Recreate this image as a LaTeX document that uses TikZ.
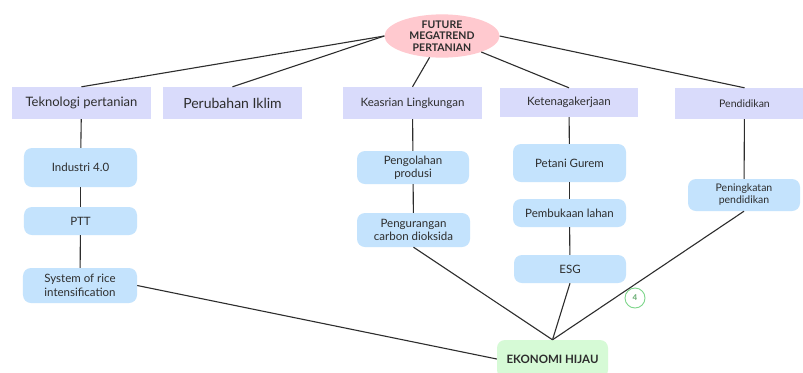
\documentclass[tikz,border=0pt]{standalone}
\usepackage{fontspec}
\setmainfont{Lato}
\usetikzlibrary{shapes.geometric}
\definecolor{lav}{RGB}{217,219,251}
\definecolor{lblue}{RGB}{196,227,253}
\definecolor{lgreen}{RGB}{214,250,214}
\definecolor{lpink}{RGB}{255,201,207}
\definecolor{txt}{RGB}{45,45,45}
\definecolor{ring}{RGB}{125,214,138}
\tikzset{
  cat/.style={fill=lav, draw=none, inner sep=0pt, text=txt, align=center},
  sub/.style={fill=lblue, draw=none, rounded corners=8bp, inner sep=0pt, text=txt, align=center, font=\fontsize{11.5bp}{13.5bp}\selectfont},
  link/.style={draw=txt, line width=1.1bp}
}
\begin{document}
\begin{tikzpicture}[x=1bp,y=-1bp]
\clip (0,0) rectangle (803,372);
\fill[white] (0,0) rectangle (803,372);
% central ellipse
\node[ellipse, fill=lpink, minimum width=115bp, minimum height=38bp, inner sep=0pt, text=txt, align=center,
  font=\bfseries\fontsize{10.5bp}{11.5bp}\selectfont] (fut) at (442,36) {FUTURE\\MEGATREND\\PERTANIAN};
% categories
\node[cat, minimum width=139bp, minimum height=32bp, font=\fontsize{13bp}{15bp}\selectfont] (tek) at (81.5,103) {Teknologi pertanian};
\node[cat, minimum width=139bp, minimum height=32bp, font=\fontsize{14bp}{16bp}\selectfont] (per) at (232.5,103) {Perubahan Iklim};
\node[cat, minimum width=139bp, minimum height=32bp, font=\fontsize{11.5bp}{14bp}\selectfont] (kea) at (412.5,103) {Keasrian Lingkungan};
\node[cat, minimum width=138bp, minimum height=29bp, font=\fontsize{11.5bp}{13bp}\selectfont] (ket) at (569,102.5) {Ketenagakerjaan};
\node[cat, minimum width=139bp, minimum height=31bp, font=\fontsize{10.5bp}{12bp}\selectfont] (pen) at (744.5,103.5) {Pendidikan};
% sub nodes
\node[sub, minimum width=113bp, minimum height=39bp] (ind) at (80.5,167.5) {Industri 4.0};
\node[sub, minimum width=113bp, minimum height=28bp] (ptt) at (80.5,221) {PTT};
\node[sub, minimum width=114bp, minimum height=35bp] (sri) at (80,285.5) {System of rice\\intensification};
\node[sub, minimum width=112bp, minimum height=33bp] (peng) at (413,167.5) {Pengolahan\\produsi};
\node[sub, minimum width=113bp, minimum height=34bp] (pengc) at (413.5,230) {Pengurangan\\carbon dioksida};
\node[sub, minimum width=113bp, minimum height=38bp] (pg) at (569.5,163) {Petani Gurem};
\node[sub, minimum width=113bp, minimum height=28bp] (pl) at (569.5,213) {Pembukaan lahan};
\node[sub, minimum width=112bp, minimum height=28bp] (esg) at (570,269) {ESG};
\node[sub, minimum width=112bp, minimum height=32bp, font=\fontsize{10.5bp}{12bp}\selectfont] (pp) at (744,195) {Peningkatan\\pendidikan};
% green
\node[fill=lgreen, rounded corners=8bp, inner sep=0pt, minimum width=111bp, minimum height=38bp, text=txt,
  font=\bfseries\fontsize{11.5bp}{13bp}\selectfont] (eko) at (552.5,359) {EKONOMI HIJAU};
% badge
\node[circle, draw=ring, line width=0.9bp, minimum size=20bp, inner sep=0pt, text=ring!80!black,
  font=\bfseries\fontsize{8bp}{9bp}\selectfont] (badge) at (635,298) {4};
% links from center
\draw[link] (fut.west) -- (tek.north);
\draw[link] (fut.west) -- (per.north);
\draw[link] (fut) -- (kea.north);
\draw[link] (fut) -- (ket.north);
\draw[link] (fut.east) -- (pen.north);
% chains
\draw[link] (tek) -- (ind);
\draw[link] (ind) -- (ptt);
\draw[link] (ptt) -- (sri);
\draw[link] (kea) -- (peng);
\draw[link] (peng) -- (pengc);
\draw[link] (ket) -- (pg);
\draw[link] (pg) -- (pl);
\draw[link] (pl) -- (esg);
\draw[link] (pen) -- (pp);
% to green
\draw[link] (sri.east) -- (eko.west);
\draw[link] (pengc.south) -- (eko.north);
\draw[link] (esg.south) -- (eko.north);
\draw[link] (pp.south) -- (eko.north);
\end{tikzpicture}
\end{document}
